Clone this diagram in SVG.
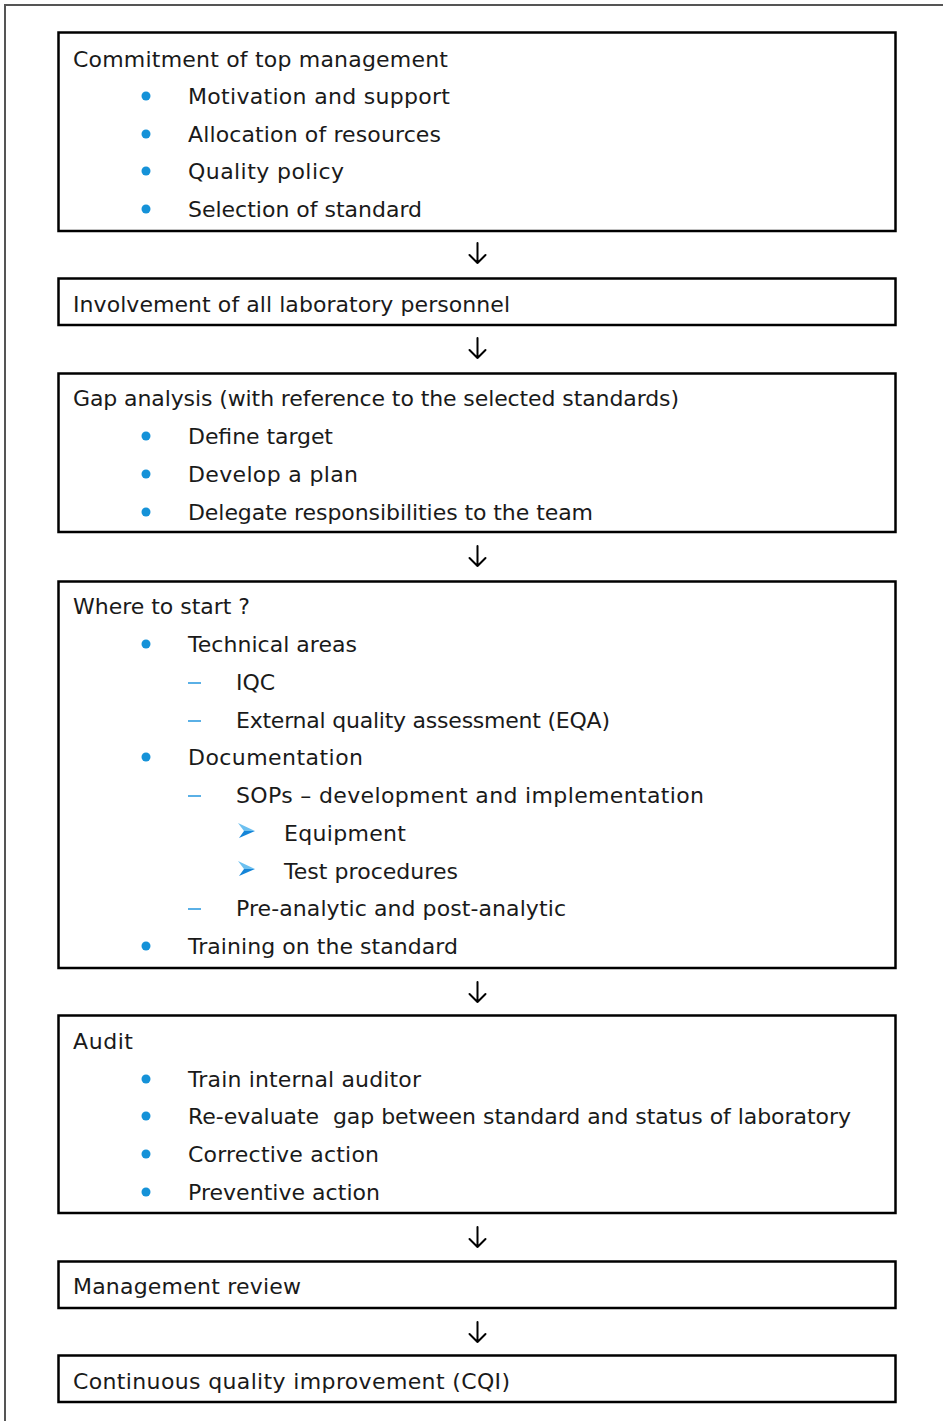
<svg xmlns="http://www.w3.org/2000/svg" width="943" height="1421" viewBox="0 0 943 1421">
<defs>
<style>
.box{fill:#fff;stroke:#000;stroke-width:2.5}
.t{font-family:"DejaVu Sans","Liberation Sans",sans-serif;font-size:22px;fill:#1a1a1a}
.b{fill:#1592d8}
.d{stroke:#5ab0e6;stroke-width:2}
.conn{stroke:#000;stroke-width:2;fill:none;stroke-linecap:round;stroke-linejoin:round}
.frame{stroke:#555;stroke-width:2;fill:none}
</style>
<g id="ah">
<polygon points="0,0 17,8 6,8" fill="#6cc0f0"/>
<polygon points="6,8 17,8 1,15" fill="#1585d8"/>
</g>
</defs>
<rect x="0" y="0" width="943" height="1421" fill="#fff"/>
<path class="frame" d="M5,1421 V5 H943"/>

<g id="n1">
<rect class="box" x="58.5" y="32.5" width="837" height="198.5"/>
<text class="t" x="73" y="66.5" textLength="375" lengthAdjust="spacing">Commitment of top management</text>
<circle class="b" cx="146" cy="96" r="4.5"/><text class="t" x="188" y="104" textLength="262" lengthAdjust="spacing">Motivation and support</text>
<circle class="b" cx="146" cy="134" r="4.5"/><text class="t" x="188" y="142" textLength="253" lengthAdjust="spacing">Allocation of resources</text>
<circle class="b" cx="146" cy="171" r="4.5"/><text class="t" x="188" y="179" textLength="156" lengthAdjust="spacing">Quality policy</text>
<circle class="b" cx="146" cy="209" r="4.5"/><text class="t" x="188" y="217" textLength="234" lengthAdjust="spacing">Selection of standard</text>
</g>

<g id="n2">
<rect class="box" x="58.5" y="278.5" width="837" height="46.5"/>
<text class="t" x="73" y="312" textLength="437" lengthAdjust="spacing">Involvement of all laboratory personnel</text>
</g>

<g id="n3">
<rect class="box" x="58.5" y="373.5" width="837" height="158.5"/>
<text class="t" x="73" y="406" textLength="606" lengthAdjust="spacing">Gap analysis (with reference to the selected standards)</text>
<circle class="b" cx="146" cy="436" r="4.5"/><text class="t" x="188" y="444" textLength="145" lengthAdjust="spacing">Define target</text>
<circle class="b" cx="146" cy="474" r="4.5"/><text class="t" x="188" y="482" textLength="170" lengthAdjust="spacing">Develop a plan</text>
<circle class="b" cx="146" cy="512" r="4.5"/><text class="t" x="188" y="520" textLength="405" lengthAdjust="spacing">Delegate responsibilities to the team</text>
</g>

<g id="n4">
<rect class="box" x="58.5" y="581.5" width="837" height="386.5"/>
<text class="t" x="73" y="614" textLength="177" lengthAdjust="spacing">Where to start ?</text>
<circle class="b" cx="146" cy="644" r="4.5"/><text class="t" x="188" y="652" textLength="169" lengthAdjust="spacing">Technical areas</text>
<line class="d" x1="188" y1="683" x2="201" y2="683"/><text class="t" x="236" y="690">IQC</text>
<line class="d" x1="188" y1="721" x2="201" y2="721"/><text class="t" x="236" y="728" textLength="374" lengthAdjust="spacing">External quality assessment (EQA)</text>
<circle class="b" cx="146" cy="757" r="4.5"/><text class="t" x="188" y="765" textLength="175" lengthAdjust="spacing">Documentation</text>
<line class="d" x1="188" y1="796" x2="201" y2="796"/><text class="t" x="236" y="803" textLength="468" lengthAdjust="spacing">SOPs – development and implementation</text>
<use href="#ah" x="238" y="823"/><text class="t" x="284" y="841" textLength="122" lengthAdjust="spacing">Equipment</text>
<use href="#ah" x="238" y="861"/><text class="t" x="284" y="879" textLength="174" lengthAdjust="spacing">Test procedures</text>
<line class="d" x1="188" y1="909" x2="201" y2="909"/><text class="t" x="236" y="916" textLength="330" lengthAdjust="spacing">Pre-analytic and post-analytic</text>
<circle class="b" cx="146" cy="946" r="4.5"/><text class="t" x="188" y="954" textLength="270" lengthAdjust="spacing">Training on the standard</text>
</g>

<g id="n5">
<rect class="box" x="58.5" y="1015.5" width="837" height="197.5"/>
<text class="t" x="73" y="1049" textLength="60" lengthAdjust="spacing">Audit</text>
<circle class="b" cx="146" cy="1079" r="4.5"/><text class="t" x="188" y="1087" textLength="233" lengthAdjust="spacing">Train internal auditor</text>
<circle class="b" cx="146" cy="1116" r="4.5"/><text class="t" x="188" y="1124" textLength="663" lengthAdjust="spacing" xml:space="preserve">Re-evaluate  gap between standard and status of laboratory</text>
<circle class="b" cx="146" cy="1154" r="4.5"/><text class="t" x="188" y="1162" textLength="191" lengthAdjust="spacing">Corrective action</text>
<circle class="b" cx="146" cy="1192" r="4.5"/><text class="t" x="188" y="1200" textLength="192" lengthAdjust="spacing">Preventive action</text>
</g>

<g id="n6">
<rect class="box" x="58.5" y="1261.5" width="837" height="46.5"/>
<text class="t" x="73" y="1294" textLength="228" lengthAdjust="spacing">Management review</text>
</g>

<g id="n7">
<rect class="box" x="58.5" y="1355.5" width="837" height="46.5"/>
<text class="t" x="73" y="1389" textLength="437" lengthAdjust="spacing">Continuous quality improvement (CQI)</text>
</g>

<g id="connectors">
<path class="conn" d="M477.5,243 V263 M469.5,255 L477.5,263 L485.5,255"/>
<path class="conn" d="M477.5,338 V358 M469.5,350 L477.5,358 L485.5,350"/>
<path class="conn" d="M477.5,546 V566 M469.5,558 L477.5,566 L485.5,558"/>
<path class="conn" d="M477.5,982 V1002 M469.5,994 L477.5,1002 L485.5,994"/>
<path class="conn" d="M477.5,1227 V1247 M469.5,1239 L477.5,1247 L485.5,1239"/>
<path class="conn" d="M477.5,1322 V1342 M469.5,1334 L477.5,1342 L485.5,1334"/>
</g>
</svg>
